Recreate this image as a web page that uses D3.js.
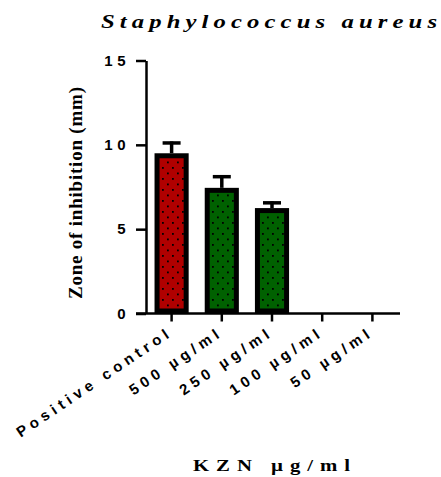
<!DOCTYPE html>
<html>
<head>
<meta charset="utf-8">
<script src="https://cdn.jsdelivr.net/npm/d3@7"></script>
<style>
  html, body { margin: 0; padding: 0; background: #fff; }
  svg { display: block; }
</style>
</head>
<body>
<svg id="chart"></svg>
<script>
// --- Data ---
const categories = ["Positive control", "500 \u00b5g/ml", "250 \u00b5g/ml", "100 \u00b5g/ml", "50 \u00b5g/ml"];
const means = [9.5, 7.45, 6.25, 0, 0];
const errors = [0.7, 0.75, 0.4, 0, 0];
const barColors = ["red", "green", "green", "green", "green"];
const yTicks = [0, 5, 10, 15];

const width = 441, height = 477;

const svg = d3.select("#chart")
    .attr("width", width)
    .attr("height", height);

// --- Dot patterns for bar fill ---
const defs = svg.append("defs");
const fills = { red: "#b00000", green: "#006100" };
Object.entries(fills).forEach(([key, col]) => {
    const p = defs.append("pattern")
        .attr("id", "dots-" + key)
        .attr("patternUnits", "userSpaceOnUse")
        .attr("width", 10)
        .attr("height", 11);
    p.append("rect").attr("width", 10).attr("height", 11).attr("fill", col);
    p.append("rect").attr("x", 2).attr("y", 2).attr("width", 1.8).attr("height", 1.8).attr("fill", "#000");
    p.append("rect").attr("x", 7).attr("y", 7.5).attr("width", 1.8).attr("height", 1.8).attr("fill", "#000");
});

// --- Scales ---
const y = d3.scaleLinear().domain([0, 15]).range([313.5, 60.5]);
const x = d3.scaleBand()
    .domain(categories)
    .range([146, 398])
    .paddingInner(0.32)
    .paddingOuter(0.17);

// --- Bars ---
const bw = 5;
svg.append("g")
    .selectAll("rect")
    .data(categories.filter((c, i) => means[i] > 0))
    .join("rect")
    .attr("x", d => x(d) + bw / 2)
    .attr("y", d => y(means[categories.indexOf(d)]) + bw / 2)
    .attr("width", x.bandwidth() - bw)
    .attr("height", d => y(0) - y(means[categories.indexOf(d)]) - bw)
    .attr("fill", d => "url(#dots-" + barColors[categories.indexOf(d)] + ")")
    .attr("stroke", "#000")
    .attr("stroke-width", bw);

// --- Error bars (upper only) ---
const eb = svg.append("g").attr("stroke", "#000");
categories.forEach((c, i) => {
    if (means[i] <= 0) return;
    const cx = x(c) + x.bandwidth() / 2;
    eb.append("line")
        .attr("x1", cx).attr("x2", cx)
        .attr("y1", y(means[i])).attr("y2", y(means[i] + errors[i]))
        .attr("stroke-width", 3.5);
    eb.append("line")
        .attr("x1", cx - 9).attr("x2", cx + 9)
        .attr("y1", y(means[i] + errors[i]) + 1.5).attr("y2", y(means[i] + errors[i]) + 1.5)
        .attr("stroke-width", 3.5);
});

// --- Y axis ---
const yAxis = svg.append("g")
    .attr("transform", "translate(146,0)")
    .call(d3.axisLeft(y).tickValues(yTicks).tickSize(10).tickSizeOuter(0).tickPadding(6));
yAxis.select(".domain").attr("stroke-width", 2.5);
yAxis.selectAll(".tick line").attr("stroke-width", 2.5);
yAxis.selectAll(".tick text")
    .attr("font-family", "'Liberation Sans', Arial, sans-serif")
    .attr("font-weight", "bold")
    .attr("font-size", 15)
    .attr("letter-spacing", "4.5px")
    .attr("fill", "#000");

// --- X axis ---
const xAxis = svg.append("g")
    .attr("transform", "translate(0," + y(0) + ")")
    .call(d3.axisBottom(x).tickSize(8).tickSizeOuter(0));
xAxis.select(".domain").attr("stroke-width", 2.5).attr("d", "M136,0H400");
xAxis.selectAll(".tick line").attr("stroke-width", 2.5);
xAxis.selectAll(".tick text")
    .attr("font-family", "'Liberation Sans', Arial, sans-serif")
    .attr("font-weight", "bold")
    .attr("font-size", 15)
    .attr("letter-spacing", "4.5px")
    .attr("fill", "#000")
    .attr("text-anchor", "end")
    .attr("dy", null)
    .attr("transform", "translate(-4,12) rotate(-34)");

// --- Titles ---
const sx = 1.3;
svg.append("text")
    .attr("transform", "scale(" + sx + ",1)")
    .attr("x", 101 / sx)
    .attr("y", 28)
    .attr("textLength", 336 / sx)
    .attr("lengthAdjust", "spacing")
    .attr("font-family", "'Liberation Serif', 'Times New Roman', serif")
    .attr("font-weight", "bold")
    .attr("font-style", "italic")
    .attr("font-size", 19)
    .text("Staphylococcus aureus");

svg.append("text")
    .attr("transform", "translate(82,299) rotate(-90)")
    .attr("textLength", 212)
    .attr("lengthAdjust", "spacing")
    .attr("font-family", "'Liberation Serif', 'Times New Roman', serif")
    .attr("font-weight", "bold")
    .attr("font-size", 19)
    .text("Zone of inhibition (mm)");

svg.append("text")
    .attr("transform", "scale(" + sx + ",1)")
    .attr("x", 193 / sx)
    .attr("y", 471)
    .attr("textLength", 157 / sx)
    .attr("lengthAdjust", "spacing")
    .attr("font-family", "'Liberation Serif', 'Times New Roman', serif")
    .attr("font-weight", "bold")
    .attr("font-size", 16)
    .text("KZN \u00b5g/ml");
</script>
</body>
</html>
